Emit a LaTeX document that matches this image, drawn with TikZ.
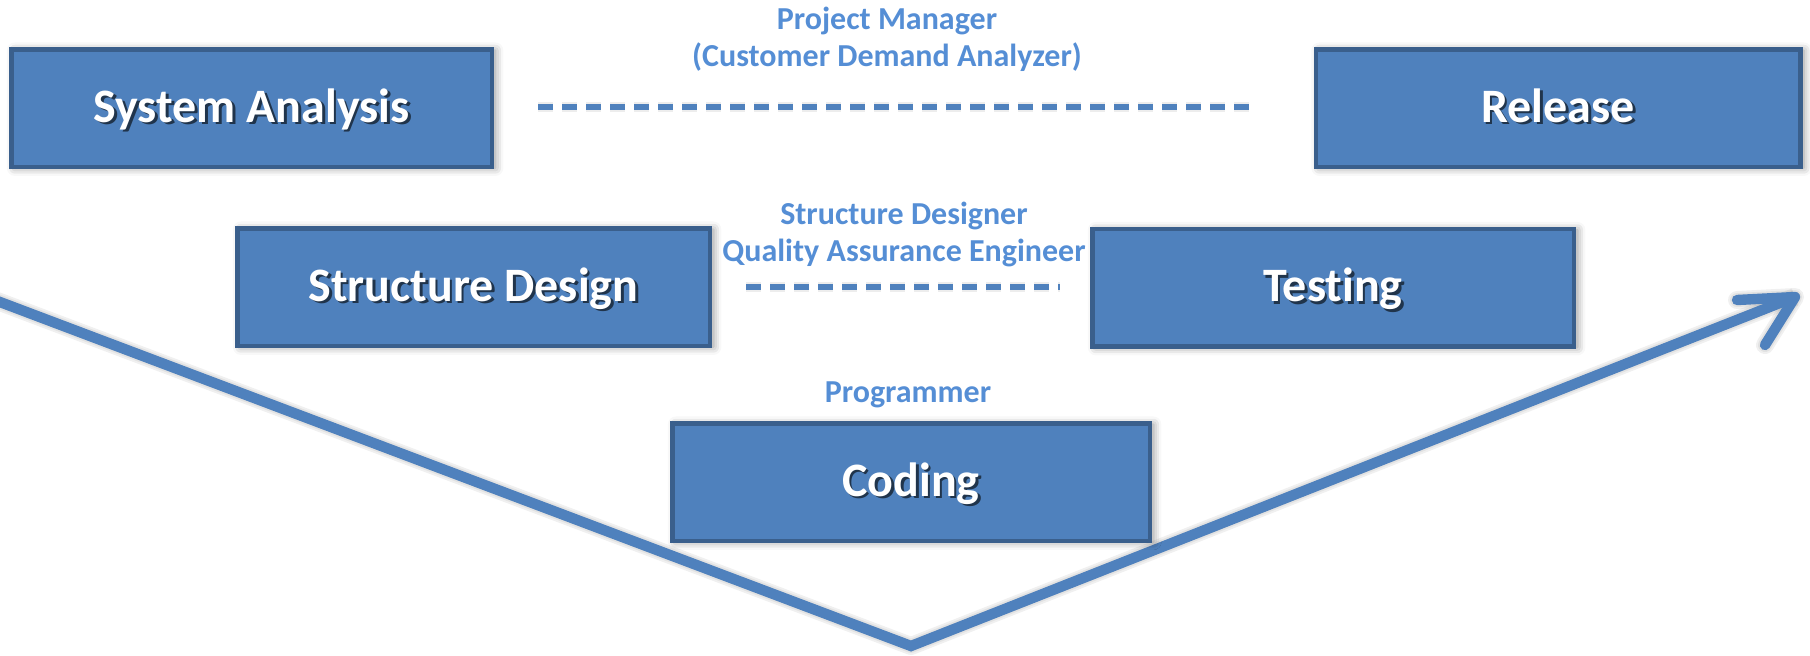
\documentclass[tikz,border=0pt]{standalone}
\usepackage{fontspec}
\setmainfont[Ligatures=NoCommon]{Carlito}
\usetikzlibrary{shadows.blur}
\definecolor{phasefill}{HTML}{4F81BD}
\definecolor{phaseedge}{HTML}{3A5F8C}
\definecolor{rolecolor}{HTML}{558ED5}
\colorlet{textshade}{phasefill!40!black}
\newcommand\shadedtext[1]{\makebox[0pt][l]{\hspace{1.3pt}\raisebox{-1.3pt}{\color{textshade}#1}}#1}
\tikzset{
  phase/.style={draw=phaseedge, line width=2.25pt, fill=phasefill, inner sep=0pt,
    minimum height=58.75pt, text=white, text height=14pt, text depth=0pt,
    font=\bfseries\fontsize{24}{28}\selectfont,
    blur shadow={shadow xshift=1.8pt, shadow yshift=-0.6pt, shadow blur radius=4pt, shadow opacity=45}},
  role/.style={text=rolecolor, align=center, inner sep=0pt,
    font=\bfseries\fontsize{16}{18.5}\selectfont},
  vline/.style={draw=phasefill, line width=5.2pt, line join=miter},
  vshade/.style={draw=black, opacity=0.06, line join=round},
  link/.style={draw=phasefill, line width=3pt, dash pattern=on 7.5pt off 4.5pt},
  linkshade/.style={draw=black, opacity=0.07, dash pattern=on 7.5pt off 4.5pt},
}
\begin{document}
\begin{tikzpicture}[x=0.5pt,y=-0.5pt]
\useasboundingbox (0,0) rectangle (1810,655);

% corner points of the V path
\coordinate (vstart) at (-8,299);
\coordinate (vbottom) at (911,646);
\coordinate (vtip) at (1795,297);
\coordinate (barbup) at (1737,300);
\coordinate (barbdown) at (1765,345);

% soft shadow under the V
\foreach \w in {5,7,9}{
  \draw[vshade, line width=\w pt, shift={(3,5)}] (vstart) -- (vbottom) -- (vtip);
  \draw[vshade, line width=\w pt, line cap=round, shift={(3,5)}] (barbup) -- (vtip) -- (barbdown);
}
\draw[vline] (vstart) -- (vbottom) -- (vtip);
\draw[vline, line cap=round, line join=round] (barbup) -- (vtip) -- (barbdown);

% phase boxes
\node[phase, minimum width=240.25pt] (analysis) at (251.5,108) {\shadedtext{System Analysis}};
\node[phase, minimum width=242.25pt] (release) at (1558,108) {\shadedtext{Release}};
\node[phase, minimum width=236.25pt] (design) at (473.5,287) {\shadedtext{Structure Design}};
\node[phase, minimum width=240.75pt] (testing) at (1333,287.5) {\shadedtext{Testing}};
\node[phase, minimum width=238.75pt] (coding) at (911,482) {\shadedtext{Coding}};

% roles
\node[role] (pm) at (887,39.5) {Project Manager\\(Customer Demand Analyzer)};
\node[role] (sdqa) at (904,234.5) {Structure Designer\\Quality Assurance Engineer};
\node[role] (prog) at (908,395) {Programmer};

% dashed links between matching phases
\coordinate (topL) at (538,107);
\coordinate (topR) at (1252,107);
\coordinate (midL) at (746,287);
\coordinate (midR) at (1060,287);
\foreach \w in {3,5}{
  \draw[linkshade, line width=\w pt, shift={(0,-8)}] (topL) -- (topR);
  \draw[linkshade, line width=\w pt, shift={(0,-8)}] (midL) -- (midR);
}
\draw[link] (topL) -- (topR);
\draw[link] (midL) -- (midR);
\end{tikzpicture}
\end{document}
